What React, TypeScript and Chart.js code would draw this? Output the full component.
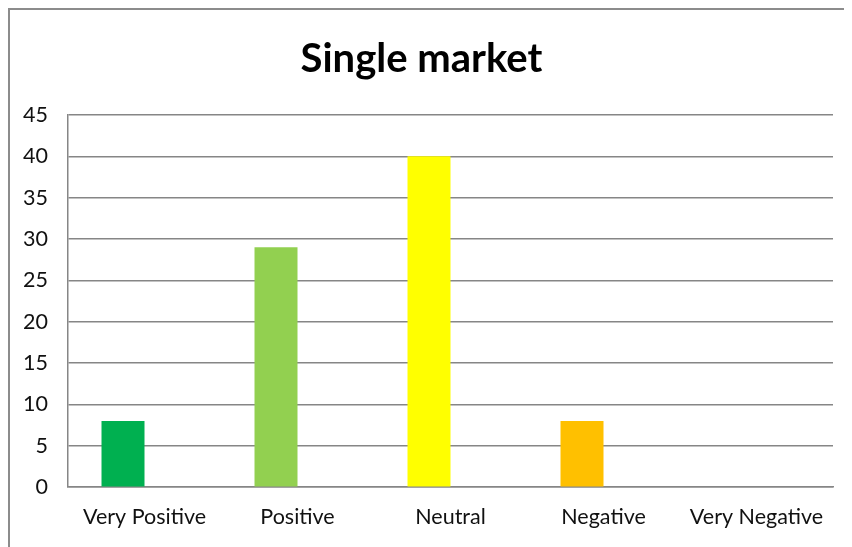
import React, { useEffect, useRef } from "react";
import { Chart, registerables } from "chart.js";

Chart.register(...registerables);

const categories = ["Very Positive", "Positive", "Neutral", "Negative", "Very Negative"];
const values = [8, 29, 40, 8, 0];
const emptySeries = [null, null, null, null, null];
const barColors = ["#00B050", "#92D050", "#FFFF00", "#FFC000", "#FF0000"];
const titleText = "Single market";

export default function App() {
  const ref = useRef<HTMLCanvasElement | null>(null);
  useEffect(() => {
    if (!ref.current) return;
    const chart = new Chart(ref.current, {
      type: "bar",
      data: {
        labels: categories,
        datasets: [
          {
            data: values,
            backgroundColor: barColors,
            borderWidth: 0,
            categoryPercentage: 0.562,
            barPercentage: 1.0,
          },
          {
            data: emptySeries as any,
            backgroundColor: "#ffffff",
            borderWidth: 0,
            categoryPercentage: 0.562,
            barPercentage: 1.0,
          },
        ],
      },
      options: {
        animation: false,
        responsive: false,
        maintainAspectRatio: false,
        layout: { padding: { left: 0, right: 19, top: 0, bottom: 0 } },
        plugins: {
          legend: { display: false },
          tooltip: { enabled: false },
          title: {
            display: true,
            text: titleText,
            color: "#000000",
            font: { family: "Lato", size: 40, weight: "bold", lineHeight: 1.2 },
            padding: { top: 25, bottom: 32 },
          },
        },
        scales: {
          x: {
            grid: { display: false, drawTicks: false },
            border: { display: true, color: "#868686", width: 1.5 },
            ticks: {
              color: "#111111",
              font: { family: "Lato", size: 21.5 },
              padding: 17,
              maxRotation: 0,
              autoSkip: false,
            },
          },
          y: {
            min: 0,
            max: 45,
            afterFit: (scale: any) => {
              scale.width = 58;
            },
            grid: { color: "#868686", lineWidth: 1.5, drawTicks: false },
            border: { display: true, color: "#868686", width: 1.5 },
            ticks: {
              stepSize: 5,
              color: "#111111",
              font: { family: "Lato", size: 21.5 },
              padding: 20,
            },
          },
        },
      },
    });
    return () => chart.destroy();
  }, []);
  return (
    <div
      style={{
        width: 844,
        height: 539,
        borderTop: "2px solid #8c8c8c",
        borderLeft: "2px solid #8c8c8c",
        boxSizing: "border-box",
        background: "#ffffff",
        overflow: "hidden",
      }}
    >
      <canvas ref={ref} width={842} height={537} style={{ display: "block" }} />
    </div>
  );
}
